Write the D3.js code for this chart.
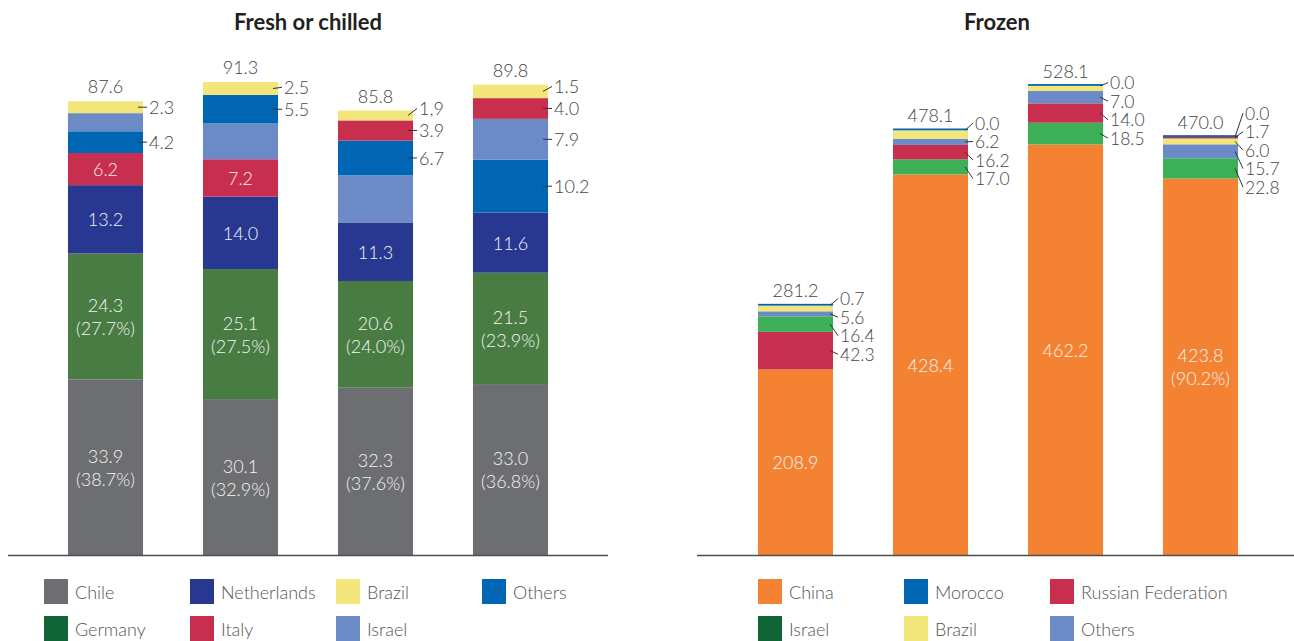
<!DOCTYPE html>
<html>
<head>
<meta charset="utf-8">
<script src="https://cdn.jsdelivr.net/npm/d3@7"></script>
<style>
  body { margin: 0; background: #fff; }
  svg text { font-family: Lato, "Open Sans", sans-serif; }
</style>
</head>
<body>
<svg id="chart" width="1294" height="641"></svg>
<script>
// ---- Fresh or chilled ----
const bars = ["1", "2", "3", "4"];

const freshChile = [33.9, 30.1, 32.3, 33.0];
const freshGermany = [24.3, 25.1, 20.6, 21.5];
const freshNetherlands = [13.2, 14.0, 11.3, 11.6];
const freshItaly = [6.2, 7.2, 3.9, 4.0];
const freshBrazil = [2.3, 2.5, 1.9, 2.6];
const freshIsrael = [3.5, 6.9, 9.1, 7.9];
const freshOthers = [4.2, 5.5, 6.7, 10.2];

const freshChileLabel = ["33.9", "30.1", "32.3", "33.0"];
const freshChileShare = ["(38.7%)", "(32.9%)", "(37.6%)", "(36.8%)"];
const freshGermanyLabel = ["24.3", "25.1", "20.6", "21.5"];
const freshGermanyShare = ["(27.7%)", "(27.5%)", "(24.0%)", "(23.9%)"];
const freshNetherlandsLabel = ["13.2", "14.0", "11.3", "11.6"];
const freshItalyLabel = ["6.2", "7.2", "3.9", "4.0"];
const freshBrazilLabel = ["2.3", "2.5", "1,9", "1.5"];
const freshIsraelLabel = [null, null, null, "7.9"];
const freshOthersLabel = ["4.2", "5.5", "6.7", "10.2"];
const freshTotals = ["87.6", "91.3", "85.8", "89.8"];

// stacking order bottom -> top, differs per bar
const freshOrder = [
  ["Chile", "Germany", "Netherlands", "Italy", "Others", "Israel", "Brazil"],
  ["Chile", "Germany", "Netherlands", "Italy", "Israel", "Others", "Brazil"],
  ["Chile", "Germany", "Netherlands", "Israel", "Others", "Italy", "Brazil"],
  ["Chile", "Germany", "Netherlands", "Others", "Israel", "Italy", "Brazil"]
];
const freshInside = [
  ["Chile", "Germany", "Netherlands", "Italy"],
  ["Chile", "Germany", "Netherlands", "Italy"],
  ["Chile", "Germany", "Netherlands"],
  ["Chile", "Germany", "Netherlands"]
];
const freshLegend = ["Chile", "Germany", "Netherlands", "Italy", "Brazil", "Israel", "Others"];

// ---- Frozen ----
const frozenChina = [208.9, 428.4, 462.2, 423.8];
const frozenIsrael = [17.5, 17.0, 24.4, 22.8];
const frozenMorocco = [0.7, 0.0, 0.0, 0.0];
const frozenBrazil = [6.4, 9.5, 5.8, 6.6];
const frozenRussia = [42.3, 16.2, 21.8, 1.7];
const frozenOthers = [5.6, 7.0, 13.9, 15.7];

const frozenChinaLabel = ["208.9", "428.4", "462.2", "423.8"];
const frozenChinaShare = [null, null, null, "(90.2%)"];
const frozenIsraelLabel = ["16.4", "17.0", "18.5", "22.8"];
const frozenMoroccoLabel = ["0.7", "0.0", "0.0", "0.0"];
const frozenBrazilLabel = [null, null, null, "6.0"];
const frozenRussiaLabel = ["42.3", "16.2", "14.0", "1.7"];
const frozenOthersLabel = ["5.6", "6.2", "7.0", "15.7"];
const frozenTotals = ["281.2", "478.1", "528.1", "470.0"];

const frozenOrder = [
  ["China", "Russian Federation", "Israel", "Others", "Brazil", "Morocco"],
  ["China", "Israel", "Russian Federation", "Others", "Brazil", "Morocco"],
  ["China", "Israel", "Russian Federation", "Others", "Brazil", "Morocco"],
  ["China", "Israel", "Others", "Brazil", "Russian Federation", "Morocco"]
];
const frozenInside = [["China"], ["China"], ["China"], ["China"]];
const frozenLegend = ["China", "Israel", "Morocco", "Brazil", "Russian Federation", "Others"];

// series tables built from the arrays above
const freshSeries = {
  "Chile": { values: freshChile, labels: freshChileLabel, share: freshChileShare, color: "#6d6e71", swatch: "#6d6e71" },
  "Germany": { values: freshGermany, labels: freshGermanyLabel, share: freshGermanyShare, color: "#487c43", swatch: "#106537" },
  "Netherlands": { values: freshNetherlands, labels: freshNetherlandsLabel, color: "#283891", swatch: "#283891" },
  "Italy": { values: freshItaly, labels: freshItalyLabel, color: "#c82e4d", swatch: "#c82e4d" },
  "Brazil": { values: freshBrazil, labels: freshBrazilLabel, color: "#f2e67a", swatch: "#f2e67a" },
  "Israel": { values: freshIsrael, labels: freshIsraelLabel, color: "#6c8ac6", swatch: "#6c8ac6" },
  "Others": { values: freshOthers, labels: freshOthersLabel, color: "#0066b3", swatch: "#0066b3" }
};
const frozenSeries = {
  "China": { values: frozenChina, labels: frozenChinaLabel, share: frozenChinaShare, color: "#f38332", swatch: "#f38332" },
  "Israel": { values: frozenIsrael, labels: frozenIsraelLabel, color: "#3daf57", swatch: "#106537" },
  "Morocco": { values: frozenMorocco, labels: frozenMoroccoLabel, color: "#0066b3", swatch: "#0066b3" },
  "Brazil": { values: frozenBrazil, labels: frozenBrazilLabel, color: "#f2e67a", swatch: "#f2e67a" },
  "Russian Federation": { values: frozenRussia, labels: frozenRussiaLabel, color: "#c82e4d", swatch: "#c82e4d" },
  "Others": { values: frozenOthers, labels: frozenOthersLabel, color: "#6c8ac6", swatch: "#6c8ac6" }
};

const svg = d3.select("#chart");
const baseY = 555;

function drawPanel(p) {
  const g = svg.append("g");
  const x = d3.scaleBand().domain(bars).range(p.xRange).paddingInner(0.444).paddingOuter(0.222);
  const y = d3.scaleLinear().domain([0, p.yMax]).range([baseY, p.yTop]);

  // title
  g.append("text")
    .attr("x", p.titleX).attr("y", 30)
    .attr("text-anchor", "middle")
    .attr("font-size", 22).attr("font-weight", 700).attr("fill", "#231f20")
    .text(p.title);

  // build segments
  const segs = [];
  bars.forEach((b, i) => {
    let acc = 0;
    p.order[i].forEach(key => {
      const s = p.series[key];
      const v = s.values[i];
      segs.push({
        bar: b, i, key, y0: acc, y1: acc + v, color: s.color,
        label: s.labels[i], share: s.share ? s.share[i] : null,
        inside: p.inside[i].includes(key)
      });
      acc += v;
    });
  });

  g.selectAll("rect.seg").data(segs).join("rect")
    .attr("class", "seg")
    .attr("x", d => x(d.bar))
    .attr("width", x.bandwidth())
    .attr("y", d => Math.min(y(d.y1), y(d.y0) - 1.8))
    .attr("height", d => Math.max(y(d.y0) - y(d.y1), 1.8))
    .attr("fill", d => d.color);

  // baseline
  g.append("line")
    .attr("x1", p.axisX[0]).attr("x2", p.axisX[1])
    .attr("y1", y(0) + 0.5).attr("y2", y(0) + 0.5)
    .attr("stroke", "#4d4d4d").attr("stroke-width", 1.5);

  // inside labels
  const ins = segs.filter(d => d.inside && d.label);
  const it = g.selectAll("text.in").data(ins).join("text")
    .attr("class", "in")
    .attr("x", d => x(d.bar) + x.bandwidth() / 2)
    .attr("y", d => (y(d.y0) + y(d.y1)) / 2 - (d.share ? 11.5 : 0))
    .attr("text-anchor", "middle")
    .attr("dominant-baseline", "central")
    .attr("font-size", 18).attr("font-weight", 300).attr("fill", "#f4f4f4");
  it.append("tspan").text(d => d.label);
  it.filter(d => d.share).append("tspan")
    .attr("x", d => x(d.bar) + x.bandwidth() / 2)
    .attr("dy", 23)
    .text(d => d.share);

  // outside labels, per bar
  bars.forEach((b, i) => {
    const outs = segs.filter(d => d.i === i && !d.inside && d.label)
      .map(d => ({ d, want: (y(d.y0) + y(d.y1)) / 2 }))
      .sort((a, c) => a.want - c.want);
    if (p.mode === "push") {
      for (let k = outs.length - 1; k >= 0; k--) {
        outs[k].pos = k === outs.length - 1 ? outs[k].want : Math.min(outs[k].want, outs[k + 1].pos - p.gap);
      }
    } else {
      let clusters = [];
      outs.forEach(o => {
        clusters.push({ items: [o], pos: o.want });
        while (clusters.length > 1) {
          const c2 = clusters[clusters.length - 1], c1 = clusters[clusters.length - 2];
          if (c1.pos + c1.items.length * p.gap > c2.pos) {
            const items = c1.items.concat(c2.items);
            const pos = d3.mean(items, (o2, k) => o2.want - p.gap * k);
            clusters.splice(-2, 2, { items, pos });
          } else break;
        }
      });
      clusters.forEach(c => c.items.forEach((o, k) => { o.pos = c.pos + k * p.gap + p.bias; }));
    }
    const right = x(b) + x.bandwidth();
    outs.forEach(o => {
      g.append("line")
        .attr("x1", right - p.lead[0]).attr("y1", o.want)
        .attr("x2", right + p.lead[1]).attr("y2", o.pos)
        .attr("stroke", "#333").attr("stroke-width", 1);
      g.append("text")
        .attr("x", right + p.lead[1] + 2).attr("y", o.pos)
        .attr("dominant-baseline", "central")
        .attr("font-size", p.outSize).attr("font-weight", 300).attr("fill", "#444")
        .text(o.d.label);
    });
  });

  // totals
  g.selectAll("text.total").data(bars).join("text")
    .attr("class", "total")
    .attr("x", b => x(b) + x.bandwidth() / 2)
    .attr("y", (b, i) => y(d3.sum(p.order[i], k => p.series[k].values[i])) - 15)
    .attr("text-anchor", "middle")
    .attr("dominant-baseline", "central")
    .attr("font-size", 18).attr("font-weight", 300).attr("fill", "#444")
    .text((b, i) => p.totals[i]);

  // legend: two rows, filled column by column
  const lg = g.selectAll("g.leg").data(p.legend).join("g")
    .attr("class", "leg")
    .attr("transform", (k, j) => `translate(${p.legendX + Math.floor(j / 2) * 146},${579 + (j % 2) * 37})`);
  lg.append("rect").attr("width", 24).attr("height", 25).attr("fill", k => p.series[k].swatch);
  lg.append("text")
    .attr("x", 31).attr("y", 13)
    .attr("dominant-baseline", "central")
    .attr("font-size", 18).attr("font-weight", 300).attr("fill", "#555")
    .text(k => k);
}

drawPanel({
  title: "Fresh or chilled", titleX: 308,
  series: freshSeries, order: freshOrder, inside: freshInside,
  totals: freshTotals, legend: freshLegend,
  xRange: [38, 578], yMax: 100, yTop: 37, axisX: [8, 608],
  mode: "push", gap: 22, bias: 0, lead: [5, 4], outSize: 18,
  legendX: 44
});

drawPanel({
  title: "Frozen", titleX: 997,
  series: frozenSeries, order: frozenOrder, inside: frozenInside,
  totals: frozenTotals, legend: frozenLegend,
  xRange: [728, 1268], yMax: 600, yTop: 22, axisX: [697, 1294],
  mode: "cluster", gap: 18.5, bias: 3, lead: [3, 5], outSize: 17.5,
  legendX: 758
});
</script>
</body>
</html>
